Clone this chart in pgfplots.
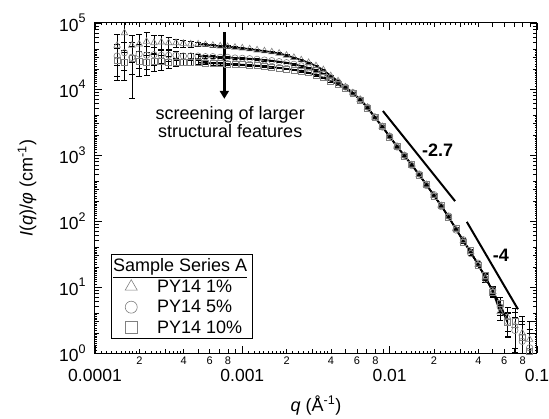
\documentclass[border=0pt]{standalone}
\usepackage{pgfplots}
\pgfplotsset{compat=1.18}
\usepackage{pgfplotstable}
\usepackage{fontspec}
\setmainfont{Liberation Sans}
\usetikzlibrary{arrows.meta}

\pgfplotstableread{
q I e
1.413e-4 45700 0.5
1.585e-4 70800 0.45
1.778e-4 45700 0.45
1.995e-4 47900 0.4
2.239e-4 52500 0.38
2.512e-4 50100 0.3
2.818e-4 51300 0.25
3.162e-4 50100 0.2
3.548e-4 50100 0.15
3.981e-4 49000 0.11
4.467e-4 47900 0.09
5.012e-4 47900 0.07
5.623e-4 46800 0.06
6.310e-4 45700 0.05
7.079e-4 44700 0.045
7.943e-4 43700 0.04
8.913e-4 42700 0.035
1.000e-3 41700 0.03
1.122e-3 40300 0.03
1.259e-3 38900 0.03
1.413e-3 37600 0.03
1.585e-3 36300 0.03
1.778e-3 34700 0.03
1.995e-3 32400 0.03
2.239e-3 29900 0.03
2.512e-3 27500 0.03
2.818e-3 25100 0.03
3.162e-3 22400 0.03
3.548e-3 19500 0.03
3.981e-3 15800 0.03
4.467e-3 13200 0.03
5.012e-3 10700 0.03
5.623e-3 8710 0.03
6.310e-3 6920 0.03
7.079e-3 5250 0.03
7.943e-3 3720 0.03
8.913e-3 2690 0.03
0.01000 1905 0.03
0.01122 1349 0.03
0.01259 977 0.03
0.01413 708 0.03
0.01585 501 0.03
0.01778 355 0.03
0.01995 245 0.03
0.02239 170 0.03
0.02512 115 0.03
0.02818 75.9 0.04
0.03162 50.1 0.04
0.03548 33.9 0.05
0.03981 21.9 0.07
0.04467 14.1 0.1
0.05012 8.51 0.15
0.05623 4.2 0.25
0.06310 3.5 0.4
0.07079 2.6 0.6
0.07943 2.0 0.8
0.08913 1.6 0.9
}\tA

\pgfplotstableread{
q I e
1.413e-4 31600 0.5
1.585e-4 35500 0.45
1.778e-4 30200 0.45
1.995e-4 33900 0.4
2.239e-4 32400 0.38
2.512e-4 33100 0.3
2.818e-4 32400 0.25
3.162e-4 32400 0.2
3.548e-4 32400 0.15
3.981e-4 31600 0.11
4.467e-4 31600 0.09
5.012e-4 31600 0.07
5.623e-4 30900 0.06
6.310e-4 30900 0.05
7.079e-4 30200 0.045
7.943e-4 30200 0.04
8.913e-4 29500 0.035
1.000e-3 29200 0.03
1.122e-3 28800 0.03
1.259e-3 28200 0.03
1.413e-3 27500 0.03
1.585e-3 26900 0.03
1.778e-3 26000 0.03
1.995e-3 25100 0.03
2.239e-3 23700 0.03
2.512e-3 22400 0.03
2.818e-3 20900 0.03
3.162e-3 19100 0.03
3.548e-3 17000 0.03
3.981e-3 14800 0.03
4.467e-3 12600 0.03
5.012e-3 10700 0.03
5.623e-3 8800 0.03
6.310e-3 6900 0.03
7.079e-3 5300 0.03
7.943e-3 3750 0.03
8.913e-3 2650 0.03
0.01000 1930 0.03
0.01122 1320 0.03
0.01259 990 0.03
0.01413 690 0.03
0.01585 515 0.03
0.01778 345 0.03
0.01995 252 0.03
0.02239 165 0.03
0.02512 119 0.03
0.02818 73 0.04
0.03162 52 0.04
0.03548 32 0.05
0.03981 23 0.07
0.04467 13.2 0.1
0.05012 9.0 0.15
0.05623 5.0 0.25
0.06310 3.0 0.4
0.07079 2.2 0.6
0.07943 1.5 0.8
0.08913 1.2 0.9
}\tB

\pgfplotstableread{
q I e
1.413e-4 27500 0.5
1.585e-4 25100 0.45
1.778e-4 28800 0.75
1.995e-4 26300 0.4
2.239e-4 25700 0.38
2.512e-4 26300 0.3
2.818e-4 26000 0.25
3.162e-4 25700 0.2
3.548e-4 25700 0.15
3.981e-4 25400 0.11
4.467e-4 25100 0.09
5.012e-4 25100 0.07
5.623e-4 24800 0.06
6.310e-4 24500 0.05
7.079e-4 24300 0.045
7.943e-4 24000 0.04
8.913e-4 23700 0.035
1.000e-3 23400 0.03
1.122e-3 22900 0.03
1.259e-3 22600 0.03
1.413e-3 22100 0.03
1.585e-3 21600 0.03
1.778e-3 20900 0.03
1.995e-3 20200 0.03
2.239e-3 19500 0.03
2.512e-3 18600 0.03
2.818e-3 17600 0.03
3.162e-3 16200 0.03
3.548e-3 14800 0.03
3.981e-3 13200 0.03
4.467e-3 11700 0.03
5.012e-3 10200 0.03
5.623e-3 8600 0.03
6.310e-3 6850 0.03
7.079e-3 5150 0.03
7.943e-3 3680 0.03
8.913e-3 2720 0.03
0.01000 1880 0.03
0.01122 1370 0.03
0.01259 960 0.03
0.01413 720 0.03
0.01585 495 0.03
0.01778 362 0.03
0.01995 240 0.03
0.02239 174 0.03
0.02512 112 0.03
0.02818 78 0.04
0.03162 48 0.04
0.03548 35.5 0.05
0.03981 21 0.07
0.04467 14.8 0.1
0.05012 8.2 0.15
0.05623 5.6 0.25
0.06310 2.9 0.4
0.07079 3.0 0.6
0.07943 1.7 0.8
0.08913 1.05 0.9
}\tC

\newcommand{\ylab}[1]{10\raisebox{8.5pt}{\fontsize{12.5}{12.5}\selectfont #1}}

\begin{document}
\begin{tikzpicture}
\begin{axis}[
  at={(0,0)}, anchor=south west,
  scale only axis, width=442pt, height=330pt,
  xmode=log, ymode=log,
  xmin=1e-4, xmax=0.1, ymin=1, ymax=1e5,
  axis line style={line width=1pt},
  tick style={black, line width=0.8pt},
  tick align=inside,
  major tick length=7pt,
  minor tick length=2pt,
  xtick={1e-4,1e-3,1e-2,1e-1},
  xticklabels={0.0001,0.001,0.01,0.1},
  ytick={1,10,100,1000,10000,100000},
  yticklabels={\ylab{0},\ylab{1},\ylab{2},\ylab{3},\ylab{4},\ylab{5}},
  minor xtick={1.1e-4,1.2e-4,1.3e-4,1.4e-4,1.5e-4,1.6e-4,1.7e-4,1.8e-4,1.9e-4,2.2e-4,2.4e-4,2.6e-4,2.8e-4,3.2e-4,3.4e-4,3.6e-4,3.8e-4,
    1.1e-3,1.2e-3,1.3e-3,1.4e-3,1.5e-3,1.6e-3,1.7e-3,1.8e-3,1.9e-3,2.2e-3,2.4e-3,2.6e-3,2.8e-3,3.2e-3,3.4e-3,3.6e-3,3.8e-3,
    1.1e-2,1.2e-2,1.3e-2,1.4e-2,1.5e-2,1.6e-2,1.7e-2,1.8e-2,1.9e-2,2.2e-2,2.4e-2,2.6e-2,2.8e-2,3.2e-2,3.4e-2,3.6e-2,3.8e-2},
  minor ytick={1.1,1.2,1.3,1.4,1.5,1.6,1.7,1.8,1.9,2.2,2.4,2.6,2.8,3.2,3.4,3.6,3.8,
    11,12,13,14,15,16,17,18,19,22,24,26,28,32,34,36,38,
    110,120,130,140,150,160,170,180,190,220,240,260,280,320,340,360,380,
    1100,1200,1300,1400,1500,1600,1700,1800,1900,2200,2400,2600,2800,3200,3400,3600,3800,
    11000,12000,13000,14000,15000,16000,17000,18000,19000,22000,24000,26000,28000,32000,34000,36000,38000},
  extra x ticks={2e-4,3e-4,4e-4,5e-4,6e-4,7e-4,8e-4,9e-4,2e-3,3e-3,4e-3,5e-3,6e-3,7e-3,8e-3,9e-3,2e-2,3e-2,4e-2,5e-2,6e-2,7e-2,8e-2,9e-2},
  extra x tick labels={2,{},4,{},6,{},8,{},2,{},4,{},6,{},8,{},2,{},4,{},6,{},8,{}},
  extra y ticks={2,3,4,5,6,7,8,9,20,30,40,50,60,70,80,90,200,300,400,500,600,700,800,900,2000,3000,4000,5000,6000,7000,8000,9000,20000,30000,40000,50000,60000,70000,80000,90000},
  extra y tick labels={},
  extra x tick style={major tick length=4pt, xticklabel style={font=\fontsize{11}{12}\selectfont, yshift=13pt}},
  extra y tick style={major tick length=4pt},
  xticklabel style={font=\fontsize{17.5}{18}\selectfont, yshift=-13pt},
  yticklabel style={font=\fontsize{17.5}{18}\selectfont, xshift=-6pt},
  xlabel={\textit{q} (Å\textsuperscript{-1})},
  ylabel={\textit{I}(\textit{q})/\textit{φ} (cm\textsuperscript{-1})},
  every axis x label/.style={at={(axis description cs:0.5,-0.158)}, anchor=center, font=\fontsize{18}{18}\selectfont},
  every axis y label/.style={at={(axis description cs:-0.154,0.5)}, rotate=90, anchor=center, font=\fontsize{18}{18}\selectfont},
  legend style={at={(0.036,0.042)}, anchor=south west, draw=black, line width=0.8pt,
    font=\fontsize{18}{18}\selectfont, inner xsep=3pt, inner ysep=2pt, row sep=2.5pt,
    nodes={inner sep=2pt}},
  legend cell align=left,
  legend image code/.code={\path (-8pt,0pt) (32pt,0pt);\draw[mark repeat=2,mark phase=2,#1] plot coordinates {(0cm,0cm) (0.3cm,0cm) (0.6cm,0cm)};},
]
\addplot[only marks, mark=triangle, mark size=3.8pt, gray, mark options={line width=0.6pt, fill=none},
  forget plot,
  error bars/.cd, y dir=both, y explicit relative,
  error bar style={black, line width=0.5pt},
  error mark options={rotate=90, black, mark size=3pt, line width=0.5pt}]
  table[x=q, y=I, y error=e]{\tA};
\addplot[only marks, mark=o, mark size=3.2pt, gray, mark options={line width=0.6pt, fill=none},
  forget plot,
  error bars/.cd, y dir=both, y explicit relative,
  error bar style={black, line width=0.5pt},
  error mark options={rotate=90, black, mark size=3pt, line width=0.5pt}]
  table[x=q, y=I, y error=e]{\tB};
\addplot[only marks, mark=square, mark size=3pt, gray, mark options={line width=0.6pt, fill=none},
  forget plot,
  error bars/.cd, y dir=both, y explicit relative,
  error bar style={black, line width=0.5pt},
  error mark options={rotate=90, black, mark size=3pt, line width=0.5pt}]
  table[x=q, y=I, y error=e]{\tC};

\addplot[black, line width=1.6pt, forget plot, skip coords between index={0}{11}, skip coords between index={54}{57}] table[x=q, y=I]{\tA};
\addplot[black, line width=1.6pt, forget plot, skip coords between index={0}{11}, skip coords between index={54}{57}] table[x=q, y=I]{\tB};
\addplot[black, line width=1.6pt, forget plot, skip coords between index={0}{11}, skip coords between index={54}{57}] table[x=q, y=I]{\tC};

\addplot[black, line width=2pt, forget plot] coordinates {(0.009,4640) (0.0278,200)};
\addplot[black, line width=2pt, forget plot] coordinates {(0.0334,97) (0.0743,4.6)};

\draw[line width=3pt, -{Triangle[width=9pt,length=8pt]}] (axis cs:7.55e-4,7.3e4) -- (axis cs:7.55e-4,7.1e3);
\node[font=\fontsize{18}{17.5}\selectfont, align=center] at (axis cs:8.28e-4,3162) {screening of larger\\structural features};
\node[font=\bfseries\fontsize{18}{18}\selectfont] at (axis cs:0.0212,1190) {-2.7};
\node[font=\bfseries\fontsize{18}{18}\selectfont] at (axis cs:0.0569,30.5) {-4};

\addlegendimage{empty legend}
\addlegendentry{\hspace*{-44pt}\underline{Sample Series A}}
\addlegendimage{only marks, mark=triangle, mark size=7pt, gray, mark options={line width=0.6pt}}
\addlegendentry{PY14 1\%}
\addlegendimage{only marks, mark=o, mark size=6pt, gray, mark options={line width=0.6pt}}
\addlegendentry{PY14 5\%}
\addlegendimage{only marks, mark=square, mark size=6pt, gray, mark options={line width=0.6pt}}
\addlegendentry{PY14 10\%}
\end{axis}
\pgfresetboundingbox
\useasboundingbox (-95pt,-65pt) rectangle (454pt,353pt);
\end{tikzpicture}
\end{document}
